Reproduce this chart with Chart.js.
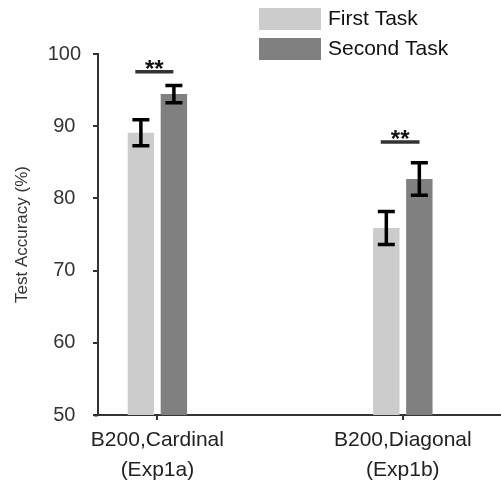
<!DOCTYPE html>
<html>
<head>
<meta charset="utf-8">
<script src="https://cdn.jsdelivr.net/npm/chart.js@4.4.0/dist/chart.umd.min.js"></script>
<style>
  body { margin: 0; background: #fff; }
</style>
</head>
<body>
<canvas id="myChart" width="501" height="483"></canvas>
<script>
// categories (x positions on a linear axis) and labels
var catX = [1, 2];
var catLabels = [["B200,Cardinal", "(Exp1a)"], ["B200,Diagonal", "(Exp1b)"]];
var seriesNames = ["First Task", "Second Task"];
var seriesColors = ["#cccccc", "#808080"];

// mean test accuracy (%) and error bar half-length
var firstTask = [89.1, 75.9];
var secondTask = [94.45, 82.7];
var firstErr = [1.8, 2.3];
var secondErr = [1.2, 2.25];

// significance brackets
var sigY = [97.55, 87.8];
var sigFrom = [0.91, 1.91];
var sigTo = [1.065, 2.068];
var sigText = ["**", "**"];

var yTicks = [50, 60, 70, 80, 90, 100];

var errs = [firstErr, secondErr];
var FONT = '"Liberation Sans", Arial, sans-serif';

function toPoints(vals) {
  var out = [];
  for (var i = 0; i < vals.length; i++) {
    out.push({x: catX[i], y: vals[i]});
  }
  return out;
}

// error bars + significance marks
var extras = {
  id: 'extras',
  afterDatasetsDraw: function(chart) {
    var ctx = chart.ctx;
    var ys = chart.scales.y, xs = chart.scales.x;
    ctx.save();
    ctx.strokeStyle = '#000';
    ctx.lineWidth = 3.5;
    chart.data.datasets.forEach(function(ds, d) {
      var meta = chart.getDatasetMeta(d);
      meta.data.forEach(function(bar, i) {
        var v = ds.data[i].y;
        var top = ys.getPixelForValue(v + errs[d][i]);
        var bot = ys.getPixelForValue(v - errs[d][i]);
        ctx.beginPath();
        ctx.moveTo(bar.x, top); ctx.lineTo(bar.x, bot);
        ctx.moveTo(bar.x - 8.5, top); ctx.lineTo(bar.x + 8.5, top);
        ctx.moveTo(bar.x - 8.5, bot); ctx.lineTo(bar.x + 8.5, bot);
        ctx.stroke();
      });
    });
    ctx.strokeStyle = '#333';
    ctx.lineWidth = 3.5;
    ctx.fillStyle = '#111';
    ctx.font = 'bold 24px ' + FONT;
    ctx.textAlign = 'center';
    ctx.textBaseline = 'alphabetic';
    for (var i = 0; i < sigY.length; i++) {
      var y = ys.getPixelForValue(sigY[i]);
      var x1 = xs.getPixelForValue(sigFrom[i]);
      var x2 = xs.getPixelForValue(sigTo[i]);
      ctx.beginPath();
      ctx.moveTo(x1, y); ctx.lineTo(x2, y);
      ctx.stroke();
      ctx.fillText(sigText[i], (x1 + x2) / 2, y + 5);
    }
    // x axis line runs a little past the y axis on the left
    var a = chart.chartArea;
    ctx.strokeStyle = '#333';
    ctx.lineWidth = 2;
    ctx.beginPath();
    ctx.moveTo(a.left - 4, a.bottom + 0.5);
    ctx.lineTo(a.left, a.bottom + 0.5);
    ctx.stroke();
    ctx.restore();
  }
};

// legend drawn at the top right
var legendBoxes = {
  id: 'legendBoxes',
  afterDraw: function(chart) {
    var ctx = chart.ctx;
    ctx.save();
    ctx.font = '21px ' + FONT;
    ctx.textBaseline = 'middle';
    ctx.textAlign = 'left';
    chart.data.datasets.forEach(function(ds, d) {
      var top = 8 + d * 30;
      ctx.fillStyle = ds.backgroundColor;
      ctx.fillRect(259, top, 62, 22);
      ctx.fillStyle = '#111';
      ctx.fillText(ds.label, 328, top + 11);
    });
    ctx.restore();
  }
};

var ctx = document.getElementById("myChart").getContext("2d");
var myChart = new Chart(ctx, {
  type: 'bar',
  data: {
    datasets: [
      { label: seriesNames[0], data: toPoints(firstTask), backgroundColor: seriesColors[0],
        categoryPercentage: 0.269, barPercentage: 0.8 },
      { label: seriesNames[1], data: toPoints(secondTask), backgroundColor: seriesColors[1],
        categoryPercentage: 0.269, barPercentage: 0.8 }
    ]
  },
  options: {
    responsive: false,
    animation: false,
    layout: { padding: { top: 54, right: 0, left: 0, bottom: 0 } },
    plugins: {
      legend: { display: false },
      tooltip: { enabled: false }
    },
    scales: {
      x: {
        type: 'linear',
        offset: false,
        min: 0.758,
        max: 2.4,
        afterBuildTicks: function(scale) {
          scale.ticks = catX.map(function(v) { return {value: v}; });
        },
        afterFit: function(scale) { scale.height = 68; },
        border: { display: true, color: '#333', width: 2 },
        grid: { offset: false, drawOnChartArea: false, drawTicks: true, tickLength: 5, color: '#333', lineWidth: 2 },
        ticks: {
          autoSkip: false,
          maxRotation: 0,
          padding: 5,
          color: '#222',
          font: { family: FONT, size: 21, lineHeight: 1.45 },
          callback: function(v) {
            var i = catX.indexOf(v);
            return i >= 0 ? catLabels[i] : '';
          }
        }
      },
      y: {
        min: 50,
        max: 100,
        afterBuildTicks: function(scale) {
          scale.ticks = yTicks.map(function(v) { return {value: v}; });
        },
        afterFit: function(scale) { scale.width = 98; },
        border: { display: true, color: '#333', width: 2 },
        grid: { drawOnChartArea: false, drawTicks: true, tickLength: 5, color: '#333', lineWidth: 2 },
        ticks: {
          crossAlign: 'center',
          padding: 12,
          color: '#333',
          font: { family: FONT, size: 20 }
        },
        title: {
          display: true,
          text: 'Test Accuracy (%)',
          color: '#333',
          padding: { top: 12, bottom: 0 },
          font: { family: FONT, size: 17 }
        }
      }
    }
  },
  plugins: [extras, legendBoxes]
});
</script>
</body>
</html>
